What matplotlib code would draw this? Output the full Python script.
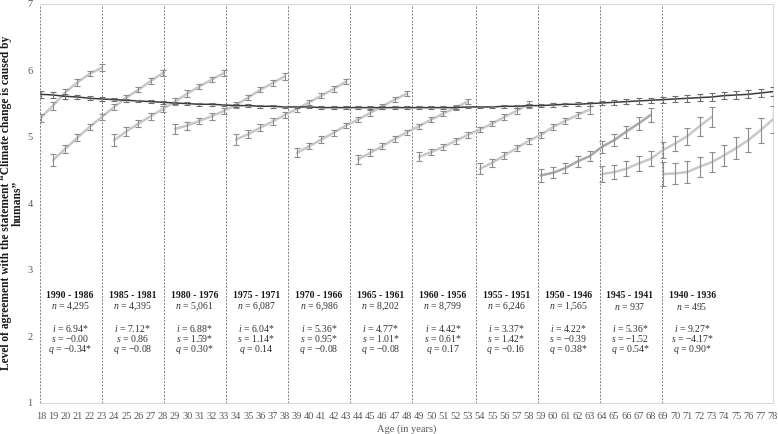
import numpy as np
import matplotlib
matplotlib.use('Agg')
import matplotlib.pyplot as plt

plt.rcParams['font.family'] = ['Liberation Serif', 'DejaVu Serif']
plt.rcParams['mathtext.fontset'] = 'custom'
plt.rcParams['mathtext.it'] = 'Liberation Serif:italic'
plt.rcParams['mathtext.rm'] = 'Liberation Serif'

################################ Data ################################
ages = list(range(18, 79))

# overall trajectory (dark line)
overall = [5.64, 5.63, 5.61, 5.60, 5.58, 5.57, 5.56, 5.55, 5.54, 5.53,
           5.52, 5.51, 5.50, 5.49, 5.49, 5.48, 5.47, 5.47, 5.46, 5.46,
           5.45, 5.45, 5.45, 5.44, 5.44, 5.44, 5.44, 5.44, 5.44, 5.44,
           5.44, 5.44, 5.44, 5.44, 5.44, 5.45, 5.45, 5.45, 5.46, 5.46,
           5.47, 5.47, 5.48, 5.49, 5.49, 5.50, 5.51, 5.52, 5.53, 5.54,
           5.55, 5.56, 5.57, 5.58, 5.59, 5.60, 5.62, 5.63, 5.64, 5.66,
           5.68]
overall_err = [0.05, 0.045, 0.04, 0.035, 0.03, 0.03, 0.025, 0.025, 0.02, 0.02,
               0.02, 0.02, 0.02, 0.02, 0.02, 0.02, 0.02, 0.02, 0.02, 0.02,
               0.02, 0.02, 0.02, 0.02, 0.02, 0.02, 0.02, 0.02, 0.02, 0.02,
               0.02, 0.02, 0.02, 0.02, 0.02, 0.02, 0.02, 0.02, 0.02, 0.02,
               0.02, 0.025, 0.025, 0.025, 0.03, 0.03, 0.03, 0.035, 0.035, 0.04,
               0.04, 0.045, 0.045, 0.05, 0.05, 0.055, 0.055, 0.06, 0.06, 0.065,
               0.07]

# cohort trajectories (grey lines)
seg_start = [18, 19, 24, 29, 34, 39, 44, 49, 54, 59, 64, 69]
seg_vals = [
    [5.29, 5.47, 5.67, 5.82, 5.95, 6.04],
    [4.65, 4.82, 4.99, 5.15, 5.30, 5.45, 5.59, 5.71, 5.84, 5.96],
    [4.95, 5.08, 5.20, 5.31, 5.42, 5.53, 5.65, 5.76, 5.86, 5.96],
    [5.12, 5.17, 5.24, 5.31, 5.39, 5.48, 5.59, 5.71, 5.81, 5.91],
    [4.96, 5.04, 5.14, 5.23, 5.33, 5.42, 5.52, 5.62, 5.72, 5.83],
    [4.76, 4.86, 4.96, 5.06, 5.17, 5.26, 5.36, 5.46, 5.56, 5.65],
    [4.66, 4.76, 4.86, 4.97, 5.07, 5.16, 5.26, 5.35, 5.44, 5.53],
    [4.70, 4.77, 4.85, 4.94, 5.03, 5.11, 5.20, 5.30, 5.39, 5.49],
    [4.52, 4.61, 4.72, 4.83, 4.94, 5.03, 5.15, 5.24, 5.33, 5.41],
    [4.42, 4.46, 4.53, 4.63, 4.71, 4.85, 4.95, 5.08, 5.20, 5.33],
    [4.44, 4.47, 4.52, 4.60, 4.67, 4.80, 4.90, 5.01, 5.16, 5.30],
    [4.44, 4.45, 4.47, 4.55, 4.62, 4.72, 4.83, 4.95, 5.10, 5.26],
]
seg_err = [
    [0.06, 0.06, 0.05, 0.05, 0.04, 0.05],
    [0.09, 0.06, 0.05, 0.05, 0.05, 0.04, 0.04, 0.04, 0.04, 0.05],
    [0.09, 0.07, 0.05, 0.05, 0.05, 0.05, 0.05, 0.04, 0.04, 0.05],
    [0.08, 0.06, 0.05, 0.05, 0.05, 0.04, 0.04, 0.04, 0.04, 0.05],
    [0.08, 0.06, 0.05, 0.05, 0.05, 0.04, 0.04, 0.04, 0.04, 0.04],
    [0.07, 0.05, 0.05, 0.04, 0.04, 0.04, 0.04, 0.04, 0.04, 0.04],
    [0.07, 0.05, 0.05, 0.04, 0.04, 0.04, 0.04, 0.04, 0.04, 0.04],
    [0.07, 0.05, 0.05, 0.04, 0.04, 0.04, 0.04, 0.04, 0.04, 0.05],
    [0.08, 0.06, 0.05, 0.05, 0.05, 0.05, 0.05, 0.05, 0.05, 0.06],
    [0.10, 0.08, 0.08, 0.08, 0.08, 0.09, 0.09, 0.09, 0.10, 0.10],
    [0.12, 0.11, 0.11, 0.11, 0.11, 0.12, 0.12, 0.13, 0.14, 0.15],
    [0.18, 0.16, 0.16, 0.15, 0.15, 0.16, 0.17, 0.18, 0.19, 0.20],
]
seg_colors = ['#c8c8c8'] * 9 + ['#a9a9a9', '#c8c8c8', '#c8c8c8']

# cohort panels
dividers = [17.9, 23.0, 28.1, 33.15, 38.3, 43.35, 48.45, 53.65, 58.75, 63.8, 68.9]
cohorts = ['1990 - 1986', '1985 - 1981', '1980 - 1976', '1975 - 1971', '1970 - 1966',
           '1965 - 1961', '1960 - 1956', '1955 - 1951', '1950 - 1946', '1945 - 1941',
           '1940 - 1936']
n_obs = ['4,295', '4,395', '5,061', '6,087', '6,986', '8,202', '8,799', '6,246',
         '1,565', '937', '495']
i_val = ['6.94*', '7.12*', '6.88*', '6.04*', '5.36*', '4.77*', '4.42*', '3.37*',
         '4.22*', '5.36*', '9.27*']
s_val = ['\u22120.00', '0.86', '1.59*', '1.14*', '0.95*', '1.01*', '0.61*', '1.42*',
         '\u22120.39', '\u22121.52', '\u22124.17*']
q_val = ['\u22120.34*', '\u22120.08', '0.30*', '0.14', '\u22120.08', '\u22120.08', '0.17',
         '\u22120.16', '0.38*', '0.54*', '0.90*']

################################ Plot ################################
fig, ax = plt.subplots(figsize=(7.78, 4.34), dpi=100)
fig.subplots_adjust(left=0.051, right=0.9935, top=0.991, bottom=0.072)

for st, vals, err, col in zip(seg_start, seg_vals, seg_err, seg_colors):
    xs = np.arange(st, st + len(vals))
    ax.plot(xs, vals, color=col, lw=1.8, zorder=2, solid_capstyle='round')
    ax.errorbar(xs, vals, yerr=err, fmt='none', ecolor='#8c8c8c', elinewidth=0.8,
                capsize=2, capthick=0.8, zorder=3)

ax.plot(ages, overall, color='#3a3a3a', lw=1.1, zorder=4)
ax.errorbar(ages, overall, yerr=overall_err, fmt='none', ecolor='#6e6e6e',
            elinewidth=0.8, capsize=2, capthick=0.8, zorder=4)

for d in dividers:
    ax.axvline(d, color='#7f7f7f', lw=0.7, ls=(0, (2, 1.5)), zorder=1)

for k, d in enumerate(dividers):
    xc = d + 2.5
    ax.text(xc, 2.62, cohorts[k], ha='center', va='center', fontsize=7,
            fontweight='bold', color='#1a1a1a')
    ax.text(xc, 2.45, r'$n$ = ' + n_obs[k], ha='center', va='center', fontsize=7,
            color='#333333')
    ax.text(xc, 2.12, r'$i$ = ' + i_val[k], ha='center', va='center', fontsize=7,
            color='#333333')
    ax.text(xc, 1.96, r'$s$ = ' + s_val[k], ha='center', va='center', fontsize=7,
            color='#333333')
    ax.text(xc, 1.80, r'$q$ = ' + q_val[k], ha='center', va='center', fontsize=7,
            color='#333333')

ax.set_xlim(17.9, 78.02)
ax.set_ylim(1, 7)
ax.set_xticks(ages)
ax.set_yticks([1, 2, 3, 4, 5, 6, 7])
ax.tick_params(axis='both', length=0, labelsize=7.5, colors='#595959', pad=5)
ax.tick_params(axis='x', pad=7)

ax.spines['left'].set_visible(False)
for sp in ['top', 'right', 'bottom']:
    ax.spines[sp].set_color('#d9d9d9')
    ax.spines[sp].set_linewidth(0.8)

ax.set_xlabel('Age (in years)', fontsize=7.5, color='#595959', labelpad=2)
ax.set_ylabel('Level of agreement with the statement \u201cClimate change is caused by\nhumans\u201d',
              fontsize=8.3, fontweight='bold', color='#1a1a1a', linespacing=1.05,
              ha='center', va='center')
ax.yaxis.set_label_coords(-0.038, 0.5)

plt.savefig('out.png', dpi=100)
